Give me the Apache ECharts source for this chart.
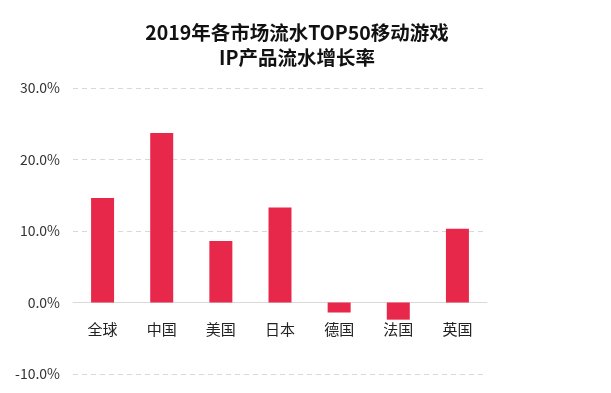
<!DOCTYPE html>
<html>
<head>
<meta charset="utf-8">
<script src="https://cdn.jsdelivr.net/npm/echarts@6/dist/echarts.min.js"></script>
<style>
html,body{margin:0;padding:0;background:#fff;}
#main{width:611px;height:393px;}
</style>
</head>
<body>
<div id="main"></div>
<script>
var categories = ['全球', '中国', '美国', '日本', '德国', '法国', '英国'];
var growthRate = [14.6, 23.7, 8.6, 13.3, -1.4, -2.4, 10.3];
var titleText = '2019年各市场流水TOP50移动游戏\nIP产品流水增长率';

var chart = echarts.init(document.getElementById('main'), null, {renderer: 'canvas'});
chart.setOption({
  animation: false,
  backgroundColor: '#ffffff',
  title: {
    text: titleText,
    left: 292,
    top: 15,
    textAlign: 'center',
    textStyle: {
      fontFamily: 'Noto Sans CJK SC',
      fontSize: 19.5,
      fontWeight: 'bold',
      color: '#111',
      lineHeight: 25
    }
  },
  grid: {left: 73, right: 124, top: 88, bottom: 19, containLabel: false, outerBoundsMode: 'none'},
  xAxis: {
    type: 'category',
    data: categories,
    axisLine: {onZero: true, lineStyle: {color: '#d9d9d9', width: 1}},
    axisTick: {show: false},
    axisLabel: {
      margin: -52,
      fontFamily: 'Noto Sans CJK SC',
      fontSize: 15,
      color: '#222'
    }
  },
  yAxis: {
    type: 'value',
    min: -10,
    max: 30,
    interval: 10,
    axisLine: {show: false},
    axisTick: {show: false},
    axisLabel: {
      margin: 13,
      fontFamily: 'Noto Sans CJK SC',
      fontSize: 14,
      color: '#333',
      formatter: function (v) { return v.toFixed(1) + '%'; }
    },
    splitLine: {lineStyle: {color: '#d9d9d9', type: [5, 4], width: 1}}
  },
  series: [{
    type: 'bar',
    data: growthRate,
    barWidth: 23,
    itemStyle: {color: '#E8284A'}
  }]
});
</script>
</body>
</html>
